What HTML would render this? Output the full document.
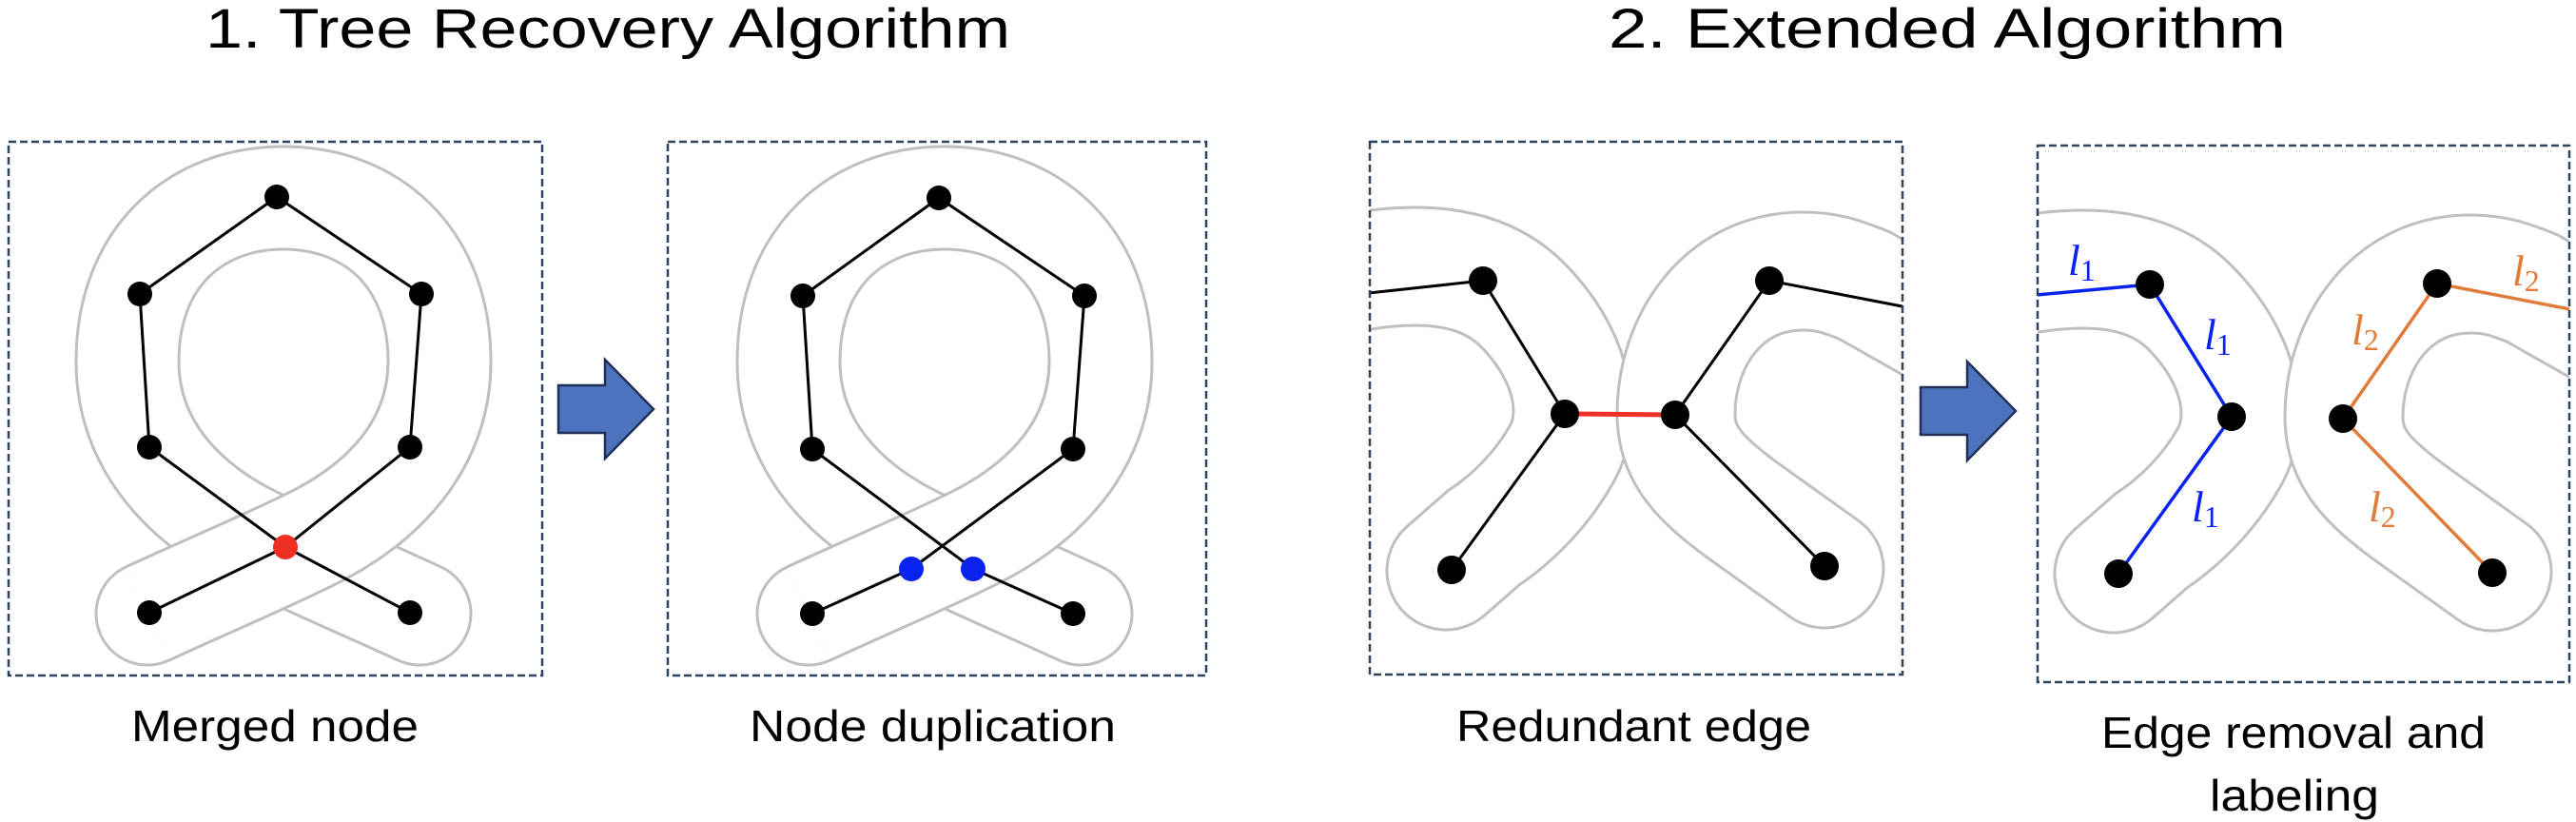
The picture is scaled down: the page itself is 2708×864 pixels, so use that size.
<!DOCTYPE html>
<html><head><meta charset="utf-8"><style>
html,body{margin:0;padding:0;background:#fff;}
svg{display:block;}
.t{font-family:"Liberation Sans",sans-serif;fill:#000;}
.lab{font-family:"Liberation Serif",serif;font-style:italic;}
</style></head><body>
<svg width="2708" height="864" viewBox="0 0 2708 864" xmlns="http://www.w3.org/2000/svg">
<defs>
<clipPath id="c3"><rect x="1440" y="149" width="560" height="560"/></clipPath>
<clipPath id="c4"><rect x="2142" y="153" width="559" height="564"/></clipPath>
</defs>

<!-- Titles -->
<text class="t" x="216" y="50" font-size="58" textLength="846" lengthAdjust="spacingAndGlyphs">1.   Tree Recovery Algorithm</text>
<text class="t" x="1691" y="50" font-size="58" textLength="712" lengthAdjust="spacingAndGlyphs">2.   Extended Algorithm</text>

<!-- Panel 1 & 2 bands -->
<g id="p1">
  <path d="M155,645 C220,615 280,590 330,565 C400,530 462,470 462,380 C462,270 390,208 298,208 C206,208 134,270 134,380 C134,470 196,530 266,565 C316,590 376,615 441,645" fill="none" stroke="#bfbfbf" stroke-width="111" stroke-linecap="round"/>
  <path d="M155,645 C220,615 280,590 330,565 C400,530 462,470 462,380 C462,270 390,208 298,208 C206,208 134,270 134,380 C134,470 196,530 266,565 C316,590 376,615 441,645" fill="none" stroke="#fff" stroke-width="105" stroke-linecap="round"/>
  <path d="M155,645 C220,615 280,590 330,565 C400,530 462,470 462,380" fill="none" stroke="#bfbfbf" stroke-width="111" stroke-linecap="butt"/>
  <path d="M155,645 C220,615 280,590 330,565 C400,530 462,470 462,380" fill="none" stroke="#fff" stroke-width="105" stroke-linecap="butt"/>
</g>
<use href="#p1" transform="translate(695,0)"/>

<!-- Panel 1 tree -->
<g stroke="#000" stroke-width="3" fill="none">
  <polyline points="157,644 300,575 431,470 443,309 291,207 147,309 157,470 300,575 431,644"/>
</g>
<g fill="#000">
  <circle cx="291" cy="207" r="13"/><circle cx="147" cy="309" r="13"/><circle cx="443" cy="309" r="13"/>
  <circle cx="157" cy="470" r="13"/><circle cx="431" cy="470" r="13"/>
  <circle cx="157" cy="644" r="13"/><circle cx="431" cy="644" r="13"/>
</g>
<circle cx="300" cy="575" r="13" fill="#ee3024"/>

<!-- Panel 2 tree -->
<g stroke="#000" stroke-width="3" fill="none">
  <polyline points="1128,472 1140,311 987,208 844,311 854,472"/>
  <polyline points="854,472 1023,598 1128,645"/>
  <polyline points="1128,472 958,598 854,645"/>
</g>
<g fill="#000">
  <circle cx="987" cy="208" r="13"/><circle cx="844" cy="311" r="13"/><circle cx="1140" cy="311" r="13"/>
  <circle cx="854" cy="472" r="13"/><circle cx="1128" cy="472" r="13"/>
  <circle cx="854" cy="645" r="13"/><circle cx="1128" cy="645" r="13"/>
</g>
<circle cx="958" cy="598" r="13" fill="#0a22f0"/>
<circle cx="1023" cy="598" r="13" fill="#0a22f0"/>

<!-- Panel 3 bands -->
<g clip-path="url(#c3)">
  <g fill="none" stroke-linecap="round">
    <path d="M1360,300 C1440,280 1540,260 1600,320 C1655,375 1665,440 1640,480 C1620,515 1590,545 1560,565 L1520,600" stroke="#bfbfbf" stroke-width="127"/>
    <path d="M1360,300 C1440,280 1540,260 1600,320 C1655,375 1665,440 1640,480 C1620,515 1590,545 1560,565 L1520,600" stroke="#fff" stroke-width="121"/>
    <path d="M2080,368 L1960,300 C1935,290 1920,285 1895,285 C1810,285 1762,360 1762,435 C1762,480 1790,505 1830,535 L1918,598" stroke="#bfbfbf" stroke-width="127"/>
    <path d="M2080,368 L1960,300 C1935,290 1920,285 1895,285 C1810,285 1762,360 1762,435 C1762,480 1790,505 1830,535 L1918,598" stroke="#fff" stroke-width="121"/>
  </g>
</g>
<g clip-path="url(#c3)" stroke="#000" stroke-width="3" fill="none">
  <polyline points="1430,309 1559,295 1645,435 1526,599"/>
  <polyline points="2010,324 1860,295 1761,436 1918,595"/>
</g>
<line x1="1645" y1="435" x2="1761" y2="436" stroke="#ee3024" stroke-width="5"/>
<g fill="#000">
  <circle cx="1559" cy="295" r="15"/><circle cx="1860" cy="295" r="15"/>
  <circle cx="1645" cy="435" r="15"/><circle cx="1761" cy="436" r="15"/>
  <circle cx="1526" cy="599" r="15"/><circle cx="1918" cy="595" r="15"/>
</g>

<!-- Panel 4 bands -->
<g clip-path="url(#c4)">
  <g transform="translate(702,3)">
  <g fill="none" stroke-linecap="round">
    <path d="M1360,300 C1440,280 1540,260 1600,320 C1655,375 1665,440 1640,480 C1620,515 1590,545 1560,565 L1520,600" stroke="#bfbfbf" stroke-width="127"/>
    <path d="M1360,300 C1440,280 1540,260 1600,320 C1655,375 1665,440 1640,480 C1620,515 1590,545 1560,565 L1520,600" stroke="#fff" stroke-width="121"/>
    <path d="M2080,368 L1960,300 C1935,290 1920,285 1895,285 C1810,285 1762,360 1762,435 C1762,480 1790,505 1830,535 L1918,598" stroke="#bfbfbf" stroke-width="127"/>
    <path d="M2080,368 L1960,300 C1935,290 1920,285 1895,285 C1810,285 1762,360 1762,435 C1762,480 1790,505 1830,535 L1918,598" stroke="#fff" stroke-width="121"/>
  </g>
  </g>
  <polyline points="2130,311 2260,299 2346,438 2227,603" fill="none" stroke="#0a22f0" stroke-width="3.5"/>
  <polyline points="2712,327 2562,298 2463,440 2620,602" fill="none" stroke="#e07b39" stroke-width="3.5"/>
</g>
<g fill="#000">
  <circle cx="2260" cy="299" r="15"/><circle cx="2562" cy="298" r="15"/>
  <circle cx="2346" cy="438" r="15"/><circle cx="2463" cy="440" r="15"/>
  <circle cx="2227" cy="603" r="15"/><circle cx="2620" cy="602" r="15"/>
</g>
<g class="lab" font-size="46" style="fill:#0a22f0">
  <text x="2174" y="289" style="fill:#0a22f0">l<tspan font-size="32" font-style="normal" dy="6">1</tspan></text>
  <text x="2317" y="367" style="fill:#0a22f0">l<tspan font-size="32" font-style="normal" dy="6">1</tspan></text>
  <text x="2304" y="548" style="fill:#0a22f0">l<tspan font-size="32" font-style="normal" dy="6">1</tspan></text>
</g>
<g class="lab" font-size="46">
  <text x="2641" y="300" style="fill:#e07b39">l<tspan font-size="32" font-style="normal" dy="6">2</tspan></text>
  <text x="2472" y="362" style="fill:#e07b39">l<tspan font-size="32" font-style="normal" dy="6">2</tspan></text>
  <text x="2490" y="548" style="fill:#e07b39">l<tspan font-size="32" font-style="normal" dy="6">2</tspan></text>
</g>

<!-- Boxes -->
<g fill="none" stroke="#2c4360" stroke-width="2.5" stroke-dasharray="8,4">
  <rect x="9" y="149" width="561" height="561"/>
  <rect x="702" y="149" width="566" height="561"/>
  <rect x="1440" y="149" width="560" height="560"/>
  <rect x="2142" y="153" width="559" height="564"/>
</g>

<!-- Arrows -->
<path d="M587,405 L636,405 L636,378 L687,430 L636,482 L636,455 L587,455 Z" fill="#4e73be" stroke="#1f3158" stroke-width="2.5"/>
<path d="M2019,407 L2068,407 L2068,380 L2119,432 L2068,484 L2068,457 L2019,457 Z" fill="#4e73be" stroke="#1f3158" stroke-width="2.5"/>

<!-- Captions -->
<text class="t" x="138" y="779" font-size="46" textLength="302" lengthAdjust="spacingAndGlyphs">Merged node</text>
<text class="t" x="788" y="779" font-size="46" textLength="385" lengthAdjust="spacingAndGlyphs">Node duplication</text>
<text class="t" x="1531" y="779" font-size="46" textLength="373" lengthAdjust="spacingAndGlyphs">Redundant edge</text>
<text class="t" x="2209" y="786" font-size="46" textLength="404" lengthAdjust="spacingAndGlyphs">Edge removal and</text>
<text class="t" x="2323" y="852" font-size="46" textLength="178" lengthAdjust="spacingAndGlyphs">labeling</text>
</svg>
</body></html>
